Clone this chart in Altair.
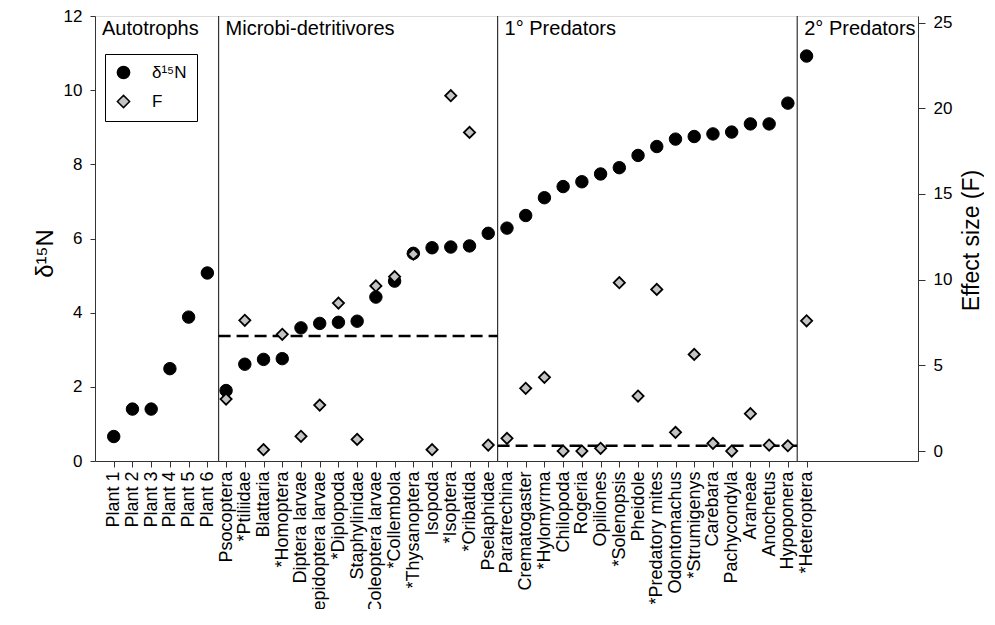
import json
import altair as alt
import pandas as pd

FONT = "Liberation Sans"

# ---------------- data ----------------
plants = ["Plant 1", "Plant 2", "Plant 3", "Plant 4", "Plant 5", "Plant 6"]
microbi = ["Psocoptera", "*Ptiliidae", "Blattaria", "*Homoptera", "Diptera larvae",
           "Lepidoptera larvae", "*Diplopoda", "Staphylinidae", "*Coleoptera larvae",
           "*Collembola", "*Thysanoptera", "Isopoda", "*Isoptera", "*Oribatida", "Pselaphidae"]
pred1 = ["Paratrechina", "Crematogaster", "*Hylomyrma", "Chilopoda", "Rogeria", "Opiliones",
         "*Solenopsis", "Pheidole", "*Predatory mites", "Odontomachus", "*Strumigenys",
         "Carebara", "Pachycondyla", "Araneae", "Anochetus", "Hypoponera"]
pred2 = ["*Heteroptera"]
categories = plants + microbi + pred1 + pred2

d15n_plants = [0.66, 1.40, 1.40, 2.49, 3.88, 5.07]
d15n_microbi = [1.90, 2.61, 2.74, 2.76, 3.59, 3.71, 3.74, 3.77, 4.42, 4.85, 5.60, 5.75, 5.77, 5.80, 6.14]
d15n_pred1 = [6.28, 6.62, 7.10, 7.40, 7.53, 7.74, 7.91, 8.24, 8.48, 8.68, 8.75, 8.82, 8.87, 9.09, 9.09, 9.65]
d15n_pred2 = [10.92]
d15n = d15n_plants + d15n_microbi + d15n_pred1 + d15n_pred2

f_microbi = [3.03, 7.63, 0.08, 6.81, 0.86, 2.68, 8.63, 0.68, 9.63, 10.17, 11.49, 0.08, 20.73, 18.59, 0.35]
f_pred1 = [0.74, 3.66, 4.30, 0.0, 0.0, 0.16, 9.82, 3.21, 9.43, 1.09, 5.64, 0.45, 0.0, 2.18, 0.35, 0.31]
f_pred2 = [7.60]

group_names = ["Autotrophs", "Microbi-detritivores", "1° Predators", "2° Predators"]
group_starts = [0.0, 6.6, 21.5, 37.5]
separators = [6.6, 21.5, 37.5]
thr_start = [6.6, 21.5]
thr_end = [21.5, 37.5]
thr_value = [6.71, 0.31]

series_names = ["δ¹⁵N", "F"]

# ---------------- tables ----------------
pos = list(range(1, len(categories) + 1))
df_n = pd.DataFrame({"pos": pos, "name": categories, "val": d15n, "series": series_names[0]})
f_pos = pos[len(plants):]
df_f = pd.DataFrame({"pos": f_pos, "name": categories[len(plants):],
                     "val": f_microbi + f_pred1 + f_pred2, "series": series_names[1]})
df_sep = pd.DataFrame({"x": separators})
df_thr = pd.DataFrame({"x": thr_start, "x2": thr_end, "v": thr_value})
df_lab = pd.DataFrame({"x": group_starts, "label": group_names})

label_expr = json.dumps(categories) + "[datum.value - 1]"

xscale = alt.Scale(domain=[0, 43.95], nice=False, zero=False)
y_left = alt.Scale(domain=[0, 12], nice=False)
y_right = alt.Scale(domain=[-0.58, 25.38], nice=False, zero=False)

fill_scale = alt.Scale(domain=series_names, range=["black", "#c4c4c4"])
shape_scale = alt.Scale(domain=series_names, range=["circle", "diamond"])
stroke_scale = alt.Scale(domain=series_names, range=["black", "black"])

legend = alt.Legend(title=None, orient="none", legendX=10, legendY=38,
                    strokeColor="black", padding=10, rowPadding=10,
                    labelFont=FONT, labelFontSize=17, labelOffset=20,
                    symbolSize=150, symbolStrokeColor="black", symbolStrokeWidth=1.5)

x_axis = alt.Axis(values=pos, labelExpr=label_expr, labelAngle=-90,
                  labelOverlap=False, labelFlush=False, title=None,
                  grid=False, tickSize=6, labelPadding=4,
                  labelFont=FONT, labelFontSize=18, labelColor="black",
                  domainColor="#333333", tickColor="#333333")


def xq(field):
    return alt.X(field, scale=xscale, axis=x_axis)


# left (delta 15N) layers
seps = alt.Chart(df_sep).mark_rule(color="#333333", strokeWidth=1.2).encode(x=xq("x:Q"))

circles = alt.Chart(df_n).mark_point(filled=True, size=155, strokeWidth=1, opacity=1).encode(
    x=xq("pos:Q"),
    y=alt.Y("val:Q", scale=y_left,
            axis=alt.Axis(values=[0, 2, 4, 6, 8, 10, 12], orient="left", grid=False,
                          tickSize=5, labelPadding=8, labelFont=FONT, labelFontSize=17,
                          labelColor="black", domainColor="#333333", tickColor="#333333",
                          title="δ¹⁵N", titleFont=FONT, titleFontSize=24,
                          titleFontWeight="normal", titleColor="black",
                          titleAngle=270, titleX=-50, titleY=237,
                          titleAlign="center", titleBaseline="middle")),
    fill=alt.Fill("series:N", scale=fill_scale, legend=legend),
    shape=alt.Shape("series:N", scale=shape_scale, legend=legend),
    stroke=alt.Stroke("series:N", scale=stroke_scale, legend=legend),
)

labels = alt.Chart(df_lab).mark_text(align="left", baseline="middle", dx=7,
                                     font=FONT, fontSize=20, color="black").encode(
    x=xq("x:Q"),
    y=alt.value(13),
    text="label:N")

left = alt.layer(seps, circles, labels)

# right (effect size F) layers
thr = alt.Chart(df_thr).mark_rule(color="black", strokeWidth=2.5,
                                  strokeDash=[12, 6]).encode(
    x=xq("x:Q"), x2="x2:Q",
    y=alt.Y("v:Q", scale=y_right))

diamonds = alt.Chart(df_f).mark_point(filled=True, size=125, strokeWidth=1.8, opacity=1).encode(
    x=xq("pos:Q"),
    y=alt.Y("val:Q", scale=y_right,
            axis=alt.Axis(values=[0, 5, 10, 15, 20, 25], orient="right", grid=False,
                          tickSize=7, labelPadding=8, labelFont=FONT, labelFontSize=17,
                          labelColor="black", domainColor="#333333", tickColor="#333333",
                          title="Effect size (F)", titleFont=FONT, titleFontSize=23,
                          titleFontWeight="normal", titleColor="black",
                          titleAngle=270, titleX=53, titleY=224,
                          titleAlign="center", titleBaseline="middle")),
    fill=alt.Fill("series:N", scale=fill_scale, legend=legend),
    shape=alt.Shape("series:N", scale=shape_scale, legend=legend),
    stroke=alt.Stroke("series:N", scale=stroke_scale, legend=legend),
)

right = alt.layer(thr, diamonds)

chart = alt.layer(left, right).resolve_scale(y="independent").properties(
    width=823, height=445,
    autosize=alt.AutoSizeParams(type="none"),
    padding={"left": 87, "top": 8, "right": 66, "bottom": 148},
).configure_view(stroke=None).configure(background="white")

chart.save("out.html", embed_options={"renderer": "svg", "actions": False})
